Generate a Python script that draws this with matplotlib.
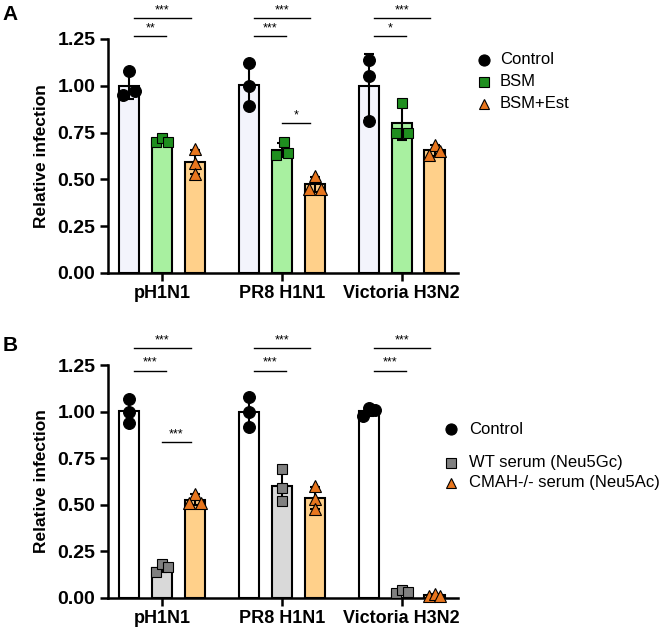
import matplotlib
matplotlib.use("Agg")
import matplotlib.pyplot as plt
from matplotlib.lines import Line2D
import numpy as np

plt.rcParams['font.family'] = ['Liberation Sans', 'DejaVu Sans']

# ---------------- data ----------------
viruses = ["pH1N1", "PR8 H1N1", "Victoria H3N2"]

a_groups = ["Control", "BSM", "BSM+Est"]
a_control = [[1.08, 0.95, 0.97], [1.12, 1.00, 0.89], [1.14, 1.05, 0.81]]
a_bsm = [[0.70, 0.72, 0.70], [0.70, 0.63, 0.64], [0.91, 0.75, 0.75]]
a_est = [[0.66, 0.59, 0.53], [0.52, 0.45, 0.45], [0.685, 0.63, 0.65]]

b_groups = ["Control", "WT serum (Neu5Gc)", "CMAH-/- serum (Neu5Ac)"]
b_control = [[1.07, 1.00, 0.94], [1.08, 1.00, 0.92], [0.975, 1.02, 1.01]]
b_wt = [[0.14, 0.18, 0.165], [0.69, 0.59, 0.52], [0.027, 0.041, 0.030]]
b_cmah = [[0.56, 0.51, 0.51], [0.60, 0.53, 0.48], [0.013, 0.023, 0.013]]

yticks = [0.00, 0.25, 0.50, 0.75, 1.00, 1.25]

# significance: (virus index, bar i, bar j, label, level)
a_sig = [(0, 0, 2, "***", 1.36), (0, 0, 1, "**", 1.265),
         (1, 0, 2, "***", 1.36), (1, 0, 1, "***", 1.265), (1, 1, 2, "*", 0.80),
         (2, 0, 2, "***", 1.36), (2, 0, 1, "*", 1.265)]
b_sig = [(0, 0, 2, "***", 1.34), (0, 0, 1, "***", 1.22), (0, 1, 2, "***", 0.835),
         (1, 0, 2, "***", 1.34), (1, 0, 1, "***", 1.22),
         (2, 0, 2, "***", 1.34), (2, 0, 1, "***", 1.22)]

# ---------------- style ----------------
a_style = [dict(fc="#F3F4FC", mc="black", marker="o"),
           dict(fc="#A8F0A0", mc="#1F8F1F", marker="s"),
           dict(fc="#FFD08A", mc="#E8761E", marker="^")]
b_style = [dict(fc="white", mc="black", marker="o"),
           dict(fc="#D9D9D9", mc="#808080", marker="s"),
           dict(fc="#FFD08A", mc="#E8761E", marker="^")]
msize = {"o": 8.5, "s": 7.5, "^": 8}

a_jit = [[[0, -0.05, 0.05], [-0.05, 0, 0.05], [0, 0, 0]],
         [[0, 0, 0], [0.02, -0.05, 0.05], [0, -0.05, 0.05]],
         [[0, 0, 0], [0, -0.05, 0.05], [0, -0.05, 0.05]]]
b_jit = [[[0, 0, 0], [-0.05, 0, 0.05], [0, -0.05, 0.05]],
         [[0, 0, 0], [0, 0, 0], [0, 0, 0]],
         [[-0.05, 0, 0.05], [-0.05, 0, 0.05], [-0.05, 0, 0.05]]]

offs = [-0.275, 0.0, 0.275]
bw = 0.167

fig = plt.figure(figsize=(6.66, 6.31), dpi=100)
axA = fig.add_axes([0.162, 0.5674, 0.5255, 0.3708])
axB = fig.add_axes([0.162, 0.0523, 0.5255, 0.3692])


def draw(ax, series, styles, jit, sigs):
    x0 = np.arange(len(viruses))
    for k, (vals, st) in enumerate(zip(series, styles)):
        arr = np.array(vals)
        means = arr.mean(axis=1)
        sds = arr.std(axis=1, ddof=1)
        xs = x0 + offs[k]
        ax.bar(xs, means, width=bw, color=st["fc"], edgecolor="black",
               linewidth=1.5, zorder=2)
        ax.errorbar(xs, means, yerr=sds, fmt="none", ecolor="black",
                    elinewidth=1.5, capsize=3.5, capthick=1.5, zorder=3)
        for g in range(len(viruses)):
            px = xs[g] + np.array(jit[g][k])
            ax.plot(px, arr[g], linestyle="none", marker=st["marker"],
                    markersize=msize[st["marker"]], markerfacecolor=st["mc"],
                    markeredgecolor="black", markeredgewidth=0.8, zorder=4,
                    clip_on=False)
    for (g, i, j, lab, lev) in sigs:
        xa = g + offs[i] + (0.045 if i == 0 else 0.0)
        xb = g + offs[j] + (0.035 if j == 1 else -0.035)
        ax.plot([xa, xb], [lev, lev], color="black", linewidth=1.0,
                clip_on=False, zorder=5)
        ax.text((xa + xb) / 2, lev + 0.012, lab, ha="center", va="bottom",
                fontsize=9, clip_on=False)
    ax.set_xlim(-0.45, 2.47)
    ax.set_ylim(0, 1.25)
    ax.set_yticks(yticks)
    ax.set_yticklabels([f"{t:.2f}" for t in yticks], fontsize=14,
                       fontweight="bold")
    ax.set_xticks(x0)
    ax.set_xticklabels(viruses, fontsize=13, fontweight="bold")
    ax.set_ylabel("Relative infection", fontsize=12.5, fontweight="bold",
                  labelpad=6)
    for s in ["top", "right"]:
        ax.spines[s].set_visible(False)
    for s in ["left", "bottom"]:
        ax.spines[s].set_linewidth(1.8)
    ax.tick_params(axis="both", width=1.8, length=6)
    ax.tick_params(axis="y", pad=3)
    ax.tick_params(axis="x", pad=3)


draw(axA, [a_control, a_bsm, a_est], a_style, a_jit, a_sig)
draw(axB, [b_control, b_wt, b_cmah], b_style, b_jit, b_sig)


def legend(names, styles, ys, xm, xt):
    W, H = 666.0, 631.0
    for name, st, y in zip(names, styles, ys):
        fig.add_artist(Line2D([xm / W], [1 - y / H], transform=fig.transFigure,
                              linestyle="none", marker=st["marker"],
                              markersize=msize[st["marker"]] - 0.5,
                              markerfacecolor=st["mc"], markeredgecolor="black",
                              markeredgewidth=0.8))
        fig.text(xt / W, 1 - y / H, name, fontsize=12, va="center", ha="left")


legend(a_groups, a_style, [60, 82, 104], 484, 500)
legend(b_groups, b_style, [429, 463, 483], 451, 469)

fig.text(0.004, 0.992, "A", fontsize=15, fontweight="bold", va="top", ha="left")
fig.text(0.004, 0.468, "B", fontsize=15, fontweight="bold", va="top", ha="left")

fig.savefig("out.png", dpi=100)
